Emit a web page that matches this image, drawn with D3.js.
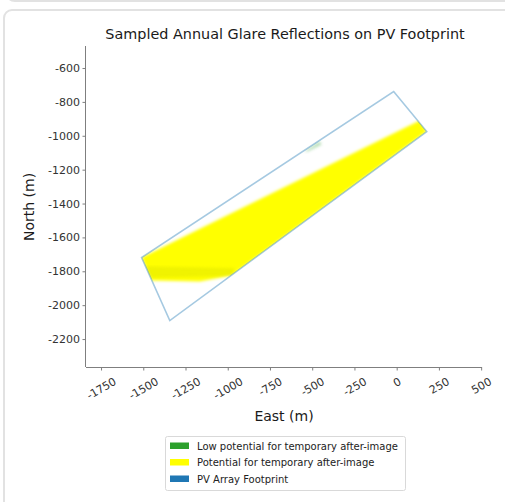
<!DOCTYPE html>
<html>
<head>
<meta charset="utf-8">
<script src="https://cdn.jsdelivr.net/npm/d3@7"></script>
<style>
  html, body { margin: 0; padding: 0; background: #fff; }
  svg { display: block; font-family: "DejaVu Sans", sans-serif; }
</style>
</head>
<body>
<svg id="chart" width="505" height="502"></svg>
<script>
// ---- data (metres, East / North) ----
const xTicks = [-1750, -1500, -1250, -1000, -750, -500, -250, 0, 250, 500];
const yTicks = [-600, -800, -1000, -1200, -1400, -1600, -1800, -2000, -2200];

// PV array footprint corners
const footprintEast  = [-18, 178, -1343, -1510];
const footprintNorth = [-739, -975, -2091, -1719];

// region of sampled reflections: potential for temporary after-image (yellow)
const glareEast  = [-1510, 136, 178, -977, -1166, -1451];
const glareNorth = [-1719, -910, -975, -1825, -1860, -1854];

// denser overlap band near south-west end
const bandEast  = [-1492, -959, -977, -1462];
const bandNorth = [-1770, -1782, -1828, -1838];

// low potential for temporary after-image (green)
const lowEast  = [-545, -456, -444, -527];
const lowNorth = [-1093, -1034, -1052, -1093];

const legendLabels = ["Low potential for temporary after-image", "Potential for temporary after-image", "PV Array Footprint"];
const legendColors = ["#2ca02c", "#ffff00", "#1f77b4"];

// ---- drawing ----
const svg = d3.select("#chart");

// page card backgrounds
svg.append("path")
  .attr("d", "M8,-20 L8,-6 Q8,1 15,1 L520,1")
  .attr("fill", "none").attr("stroke", "#e2e2e2").attr("stroke-width", 2);
svg.append("rect")
  .attr("x", 4).attr("y", 10).attr("width", 540).attr("height", 540)
  .attr("rx", 8).attr("fill", "#fff").attr("stroke", "#e2e2e2").attr("stroke-width", 2);

const x = d3.scaleLinear().domain([-1839, 505]).range([86, 482]);
const y = d3.scaleLinear().domain([-2365, -470]).range([367, 46]);

const defs = svg.append("defs");
defs.append("filter").attr("id", "soft").attr("x", "-10%").attr("y", "-10%").attr("width", "120%").attr("height", "120%")
  .append("feGaussianBlur").attr("stdDeviation", 1.8);
defs.append("filter").attr("id", "soft2").attr("x", "-20%").attr("y", "-20%").attr("width", "140%").attr("height", "140%")
  .append("feGaussianBlur").attr("stdDeviation", 1.5);

const toPts = (ex, ny) => ex.map((e, i) => [x(e), y(ny[i])]);
const line = d3.line().curve(d3.curveLinearClosed);

defs.append("clipPath").attr("id", "fpclip")
  .append("path").attr("d", line(toPts(footprintEast, footprintNorth)));
defs.append("clipPath").attr("id", "glclip")
  .append("path").attr("d", line(toPts(glareEast, glareNorth)));

const g = svg.append("g").attr("clip-path", "url(#fpclip)");
g.append("path").attr("d", line(toPts(glareEast, glareNorth)))
  .attr("fill", "#ffff00").attr("filter", "url(#soft)");
g.append("g").attr("clip-path", "url(#glclip)")
  .append("path").attr("d", line(toPts(bandEast, bandNorth)))
  .attr("fill", "#c8d200").attr("opacity", 0.28).attr("filter", "url(#soft)");
g.append("path").attr("d", line(toPts(lowEast, lowNorth)))
  .attr("fill", "#2ca02c").attr("opacity", 0.35).attr("filter", "url(#soft2)");

// footprint outline
svg.append("path").attr("d", line(toPts(footprintEast, footprintNorth)))
  .attr("fill", "none").attr("stroke", "#1f77b4").attr("stroke-opacity", 0.4)
  .attr("stroke-width", 1.6).attr("stroke-linejoin", "miter");

// axes
const axisColor = "#7f7f7f";
const xAxis = svg.append("g").attr("transform", "translate(0,367)")
  .call(d3.axisBottom(x).tickValues(xTicks).tickSize(3.5).tickFormat(d3.format("d")));
const yAxis = svg.append("g").attr("transform", "translate(86,0)")
  .call(d3.axisLeft(y).tickValues(yTicks).tickSize(3.5).tickFormat(d3.format("d")));
[xAxis, yAxis].forEach(a => {
  a.select(".domain").attr("stroke", axisColor).attr("stroke-width", 1).attr("d",
    a === xAxis ? `M${x.range()[0]},0.5H${x.range()[1]}` : `M-0.5,${y.range()[0]}V${y.range()[1]}`);
  a.selectAll(".tick line").attr("stroke", axisColor);
  a.selectAll(".tick text").attr("fill", "#333").attr("font-size", 11)
    .attr("font-family", "DejaVu Sans, sans-serif").text(d => String(d).replace("\u2212", "-"));
});
yAxis.selectAll(".tick text").attr("x", -6);
xAxis.selectAll(".tick text").each(function() {
  const t = d3.select(this);
  const w = this.getComputedTextLength();
  const h = 11;
  const halfH = (w / 2) * 0.5 + (h / 2) * 0.866;
  const cy = 9 + halfH;
  t.attr("y", null).attr("dy", null)
    .attr("text-anchor", "middle").attr("dominant-baseline", "central")
    .attr("transform", `translate(0,${cy}) rotate(-30)`);
});

// title and labels
svg.append("text").attr("x", 285).attr("y", 39).attr("text-anchor", "middle")
  .attr("font-size", 14.4).attr("fill", "#1a1a1a").text("Sampled Annual Glare Reflections on PV Footprint");
svg.append("text").attr("x", 284).attr("y", 421).attr("text-anchor", "middle")
  .attr("font-size", 14).attr("fill", "#1a1a1a").text("East (m)");
svg.append("text").attr("transform", "translate(34,207) rotate(-90)").attr("text-anchor", "middle")
  .attr("font-size", 14).attr("fill", "#1a1a1a").text("North (m)");

// legend
const lg = svg.append("g").attr("transform", "translate(165,436)");
lg.append("rect").attr("x", 0.5).attr("y", 0.5).attr("width", 240).attr("height", 54).attr("rx", 2)
  .attr("fill", "#fff").attr("stroke", "#d9d9d9");
legendLabels.forEach((lab, i) => {
  const ry = 10 + i * 16.5;
  lg.append("rect").attr("x", 5).attr("y", ry - 3.5).attr("width", 19).attr("height", 6.5)
    .attr("fill", legendColors[i]);
  lg.append("text").attr("x", 32).attr("y", ry).attr("dominant-baseline", "central")
    .attr("font-size", 10).attr("fill", "#222").text(lab);
});
</script>
</body>
</html>
